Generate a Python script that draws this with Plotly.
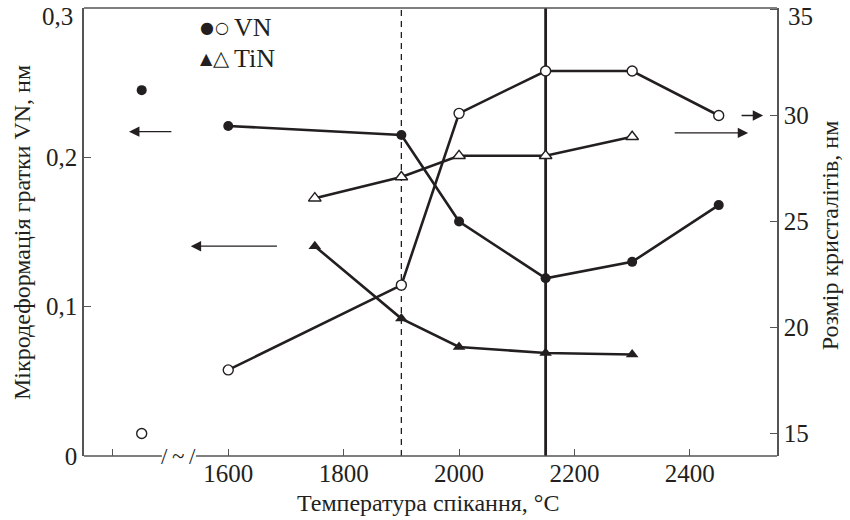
import plotly.graph_objects as go

# ---------------- data ----------------
vn_start_temp = [1450]
vn_start_strain = [0.245]
vn_start_size = [15.0]

vn_temp = [1600, 1900, 2000, 2150, 2300, 2450]
vn_strain = [0.221, 0.215, 0.157, 0.119, 0.130, 0.168]
vn_size = [18.0, 22.0, 30.1, 32.1, 32.1, 30.0]

tin_temp = [1750, 1900, 2000, 2150, 2300]
tin_strain = [0.1405, 0.092, 0.073, 0.069, 0.068]
tin_size = [26.1, 27.1, 28.1, 28.1, 29.0]

x_ticks = [1400, 1600, 1800, 2000, 2200, 2400]
x_ticktext = ["", "1600", "1800", "2000", "2200", "2400"]
y_ticks = [0, 0.1, 0.2, 0.3]
y_ticktext = ["0", "0,1", "0,2", ""]
y2_ticks = [15, 20, 25, 30, 35]
y2_ticktext = ["15", "20", "25", "30", ""]

x_range = [1350, 2551]
y_range = [0, 0.3]
y2_range = [13.94, 35.07]

dashed_temp = 1900
solid_temp = 2150
break_span = [1485, 1544]

# arrows: (tail_x, tip_x, y)
left_arrows = [(1504, 1428, 0.2172), (1687, 1535, 0.1405)]
right_arrows = [(2487, 2527, 30.0), (2371, 2501, 29.18)]

INK = "#231f20"
AXC = "#555555"
FONT = "Liberation Serif"
TICK_SIZE = 25
TITLE_SIZE = 24

fig = go.Figure()

fig.add_trace(go.Scatter(x=vn_temp, y=vn_strain, mode="lines+markers",
                         line=dict(color=INK, width=2.6),
                         marker=dict(symbol="circle", size=10, color=INK),
                         yaxis="y"))
fig.add_trace(go.Scatter(x=vn_start_temp, y=vn_start_strain, mode="markers",
                         marker=dict(symbol="circle", size=10, color=INK),
                         yaxis="y"))
fig.add_trace(go.Scatter(x=tin_temp, y=tin_strain, mode="lines+markers",
                         line=dict(color=INK, width=2.6),
                         marker=dict(symbol="triangle-up", size=11, color=INK),
                         yaxis="y"))
fig.add_trace(go.Scatter(x=vn_temp, y=vn_size, mode="lines+markers",
                         line=dict(color=INK, width=2.6),
                         marker=dict(symbol="circle", size=10, color="white",
                                     line=dict(color=INK, width=1.4)),
                         yaxis="y2"))
fig.add_trace(go.Scatter(x=vn_start_temp, y=vn_start_size, mode="markers",
                         marker=dict(symbol="circle", size=10, color="white",
                                     line=dict(color=INK, width=1.4)),
                         yaxis="y2"))
fig.add_trace(go.Scatter(x=tin_temp, y=tin_size, mode="lines+markers",
                         line=dict(color=INK, width=2.6),
                         marker=dict(symbol="triangle-up", size=11, color="white",
                                     line=dict(color=INK, width=1.4)),
                         yaxis="y2"))

shapes = [
    dict(type="line", xref="x", yref="paper", x0=dashed_temp, x1=dashed_temp, y0=0, y1=1,
         line=dict(color=INK, width=1.3, dash="6px,5px"), layer="below"),
    dict(type="line", xref="x", yref="paper", x0=solid_temp, x1=solid_temp, y0=0, y1=1,
         line=dict(color=INK, width=2.8), layer="below"),
    # bottom axis line with break
    dict(type="line", xref="x", yref="paper", x0=x_range[0], x1=break_span[0], y0=0, y1=0,
         line=dict(color=AXC, width=1.6)),
    dict(type="line", xref="x", yref="paper", x0=break_span[1], x1=x_range[1], y0=0, y1=0,
         line=dict(color=AXC, width=1.6)),
    # top frame line
    dict(type="line", xref="paper", yref="paper", x0=0, x1=1, y0=1, y1=1,
         line=dict(color=AXC, width=1.6)),
]

annotations = []
for tail, tip, yy in left_arrows:
    annotations.append(dict(x=tip, y=yy, ax=tail, ay=yy, xref="x", yref="y",
                            axref="x", ayref="y", text="", showarrow=True,
                            arrowhead=2, arrowsize=1.6, arrowwidth=1.3, arrowcolor=INK))
for tail, tip, yy in right_arrows:
    annotations.append(dict(x=tip, y=yy, ax=tail, ay=yy, xref="x", yref="y2",
                            axref="x", ayref="y2", text="", showarrow=True,
                            arrowhead=2, arrowsize=1.6, arrowwidth=1.3, arrowcolor=INK))

# break symbol
annotations.append(dict(x=sum(break_span) / 2, y=0, xref="x", yref="paper",
                        text="/\u2009~\u2009/", showarrow=False, xanchor="center",
                        yanchor="middle",
                        font=dict(family=FONT, size=23, color=INK)))

# legend: symbols and labels
legend_labels = [("VN", 0.957), ("TiN", 0.887)]
legend_syms = [("●", 0.1645, 0.957, 16), ("○", 0.1855, 0.957, 16),
               ("▲", 0.1645, 0.887, 16), ("△", 0.1830, 0.889, 21)]
for sym, xx, yy, sz in legend_syms:
    annotations.append(dict(x=xx, y=yy, xref="paper", yref="paper", xanchor="left",
                            yanchor="middle", showarrow=False, text=sym,
                            font=dict(family="DejaVu Sans", size=sz, color=INK)))
for label, yy in legend_labels:
    annotations.append(dict(x=0.213, y=yy, xref="paper", yref="paper", xanchor="left",
                            yanchor="middle", showarrow=False, text=label,
                            font=dict(family=FONT, size=26, color=INK)))

# top tick labels (shifted down as in original)
annotations.append(dict(x=-0.013, y=0.98, xref="paper", yref="paper", xanchor="right",
                        yanchor="middle", showarrow=False, text="0,3",
                        font=dict(family=FONT, size=TICK_SIZE, color=INK)))
annotations.append(dict(x=1.013, y=0.98, xref="paper", yref="paper", xanchor="left",
                        yanchor="middle", showarrow=False, text="35",
                        font=dict(family=FONT, size=TICK_SIZE, color=INK)))

# axis titles
annotations.append(dict(x=-0.0895, y=0.5, xref="paper", yref="paper", xanchor="center",
                        yanchor="middle", showarrow=False, textangle=-90,
                        text="Мікродеформація гратки VN, нм",
                        font=dict(family=FONT, size=TITLE_SIZE, color=INK)))
annotations.append(dict(x=1.0765, y=0.4926, xref="paper", yref="paper", xanchor="center",
                        yanchor="middle", showarrow=False, textangle=-90,
                        text="Розмір кристалітів, нм",
                        font=dict(family=FONT, size=TITLE_SIZE, color=INK)))
annotations.append(dict(x=0.496, y=-0.1056, xref="paper", yref="paper", xanchor="center",
                        yanchor="middle", showarrow=False,
                        text="Температура спікання, °C",
                        font=dict(family=FONT, size=TITLE_SIZE, color=INK)))

fig.update_layout(
    width=850, height=520,
    margin=dict(l=84, r=73, t=8, b=64),
    paper_bgcolor="white", plot_bgcolor="white",
    showlegend=False,
    font=dict(family=FONT, color=INK, size=TICK_SIZE),
    xaxis=dict(range=x_range, tickvals=x_ticks, ticktext=x_ticktext,
               ticks="inside", ticklen=7, tickwidth=1.4, tickcolor=AXC,
               showline=False, showgrid=False, zeroline=False,
               tickfont=dict(family=FONT, size=TICK_SIZE, color=INK)),
    yaxis=dict(range=y_range, tickvals=y_ticks, ticktext=y_ticktext,
               ticks="inside", ticklen=7, tickwidth=1.4, tickcolor=AXC,
               showline=True, linecolor=AXC, linewidth=1.6,
               showgrid=False, zeroline=False,
               tickfont=dict(family=FONT, size=TICK_SIZE, color=INK)),
    yaxis2=dict(range=y2_range, tickvals=y2_ticks, ticktext=y2_ticktext,
                overlaying="y", side="right",
                ticks="inside", ticklen=7, tickwidth=1.4, tickcolor=AXC,
                showline=True, linecolor=AXC, linewidth=1.6,
                showgrid=False, zeroline=False,
                tickfont=dict(family=FONT, size=TICK_SIZE, color=INK)),
    shapes=shapes,
    annotations=annotations,
)

fig.write_html("out.html")
